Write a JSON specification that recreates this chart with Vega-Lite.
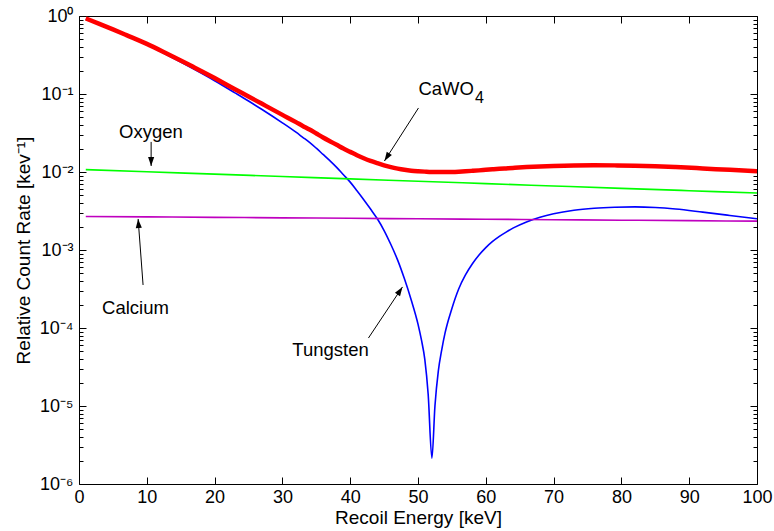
{
  "$schema": "https://vega.github.io/schema/vega-lite/v6.json",
  "width": 678,
  "height": 468,
  "autosize": {"type": "none"},
  "padding": {"left": 79, "top": 16, "right": 17, "bottom": 47},
  "background": "white",
  "config": {
    "font": "Liberation Sans",
    "view": {"stroke": "#000", "strokeWidth": 1},
    "axis": {
      "grid": false,
      "domain": false,
      "labelFont": "Liberation Sans",
      "labelFontSize": 18,
      "labelColor": "#000",
      "titleFont": "Liberation Sans",
      "titleFontSize": 19,
      "titleFontWeight": "normal",
      "titleColor": "#000",
      "tickColor": "#000",
      "tickWidth": 1
    }
  },
  "datasets": {
    "curves": [
      {"energy": 1, "series": "Tungsten", "rate": 0.9183},
      {"energy": 3, "series": "Tungsten", "rate": 0.7798},
      {"energy": 5, "series": "Tungsten", "rate": 0.6607},
      {"energy": 7, "series": "Tungsten", "rate": 0.5559},
      {"energy": 10, "series": "Tungsten", "rate": 0.4266},
      {"energy": 13, "series": "Tungsten", "rate": 0.3162},
      {"energy": 15, "series": "Tungsten", "rate": 0.257},
      {"energy": 17, "series": "Tungsten", "rate": 0.207},
      {"energy": 20, "series": "Tungsten", "rate": 0.1479},
      {"energy": 23, "series": "Tungsten", "rate": 0.1035},
      {"energy": 25, "series": "Tungsten", "rate": 0.08128},
      {"energy": 27, "series": "Tungsten", "rate": 0.06324},
      {"energy": 30, "series": "Tungsten", "rate": 0.04266},
      {"energy": 32, "series": "Tungsten", "rate": 0.03236},
      {"energy": 33, "series": "Tungsten", "rate": 0.02786},
      {"energy": 34, "series": "Tungsten", "rate": 0.02399},
      {"energy": 35, "series": "Tungsten", "rate": 0.02018},
      {"energy": 36, "series": "Tungsten", "rate": 0.01679},
      {"energy": 37, "series": "Tungsten", "rate": 0.01396},
      {"energy": 38, "series": "Tungsten", "rate": 0.01148},
      {"energy": 39, "series": "Tungsten", "rate": 0.009226},
      {"energy": 40, "series": "Tungsten", "rate": 0.007413},
      {"energy": 41, "series": "Tungsten", "rate": 0.005754},
      {"energy": 42, "series": "Tungsten", "rate": 0.004416},
      {"energy": 43, "series": "Tungsten", "rate": 0.00335},
      {"energy": 44, "series": "Tungsten", "rate": 0.002512},
      {"energy": 45, "series": "Tungsten", "rate": 0.001778},
      {"energy": 46, "series": "Tungsten", "rate": 0.001175},
      {"energy": 47, "series": "Tungsten", "rate": 0.0007413},
      {"energy": 48, "series": "Tungsten", "rate": 0.0004266},
      {"energy": 49, "series": "Tungsten", "rate": 0.0002291},
      {"energy": 50, "series": "Tungsten", "rate": 0.0001122},
      {"energy": 50.5, "series": "Tungsten", "rate": 0.00007079},
      {"energy": 51, "series": "Tungsten", "rate": 0.00003981},
      {"energy": 51.5, "series": "Tungsten", "rate": 0.00001413},
      {"energy": 52.05, "series": "Tungsten", "rate": 0.000002138},
      {"energy": 52.5, "series": "Tungsten", "rate": 0.00001},
      {"energy": 53, "series": "Tungsten", "rate": 0.00002818},
      {"energy": 53.5, "series": "Tungsten", "rate": 0.00005248},
      {"energy": 54, "series": "Tungsten", "rate": 0.0000871},
      {"energy": 55, "series": "Tungsten", "rate": 0.0001778},
      {"energy": 56, "series": "Tungsten", "rate": 0.0003162},
      {"energy": 57, "series": "Tungsten", "rate": 0.0004786},
      {"energy": 58, "series": "Tungsten", "rate": 0.0006607},
      {"energy": 59, "series": "Tungsten", "rate": 0.000861},
      {"energy": 60, "series": "Tungsten", "rate": 0.001072},
      {"energy": 61, "series": "Tungsten", "rate": 0.001288},
      {"energy": 62, "series": "Tungsten", "rate": 0.001496},
      {"energy": 63, "series": "Tungsten", "rate": 0.001698},
      {"energy": 64, "series": "Tungsten", "rate": 0.001905},
      {"energy": 66, "series": "Tungsten", "rate": 0.002291},
      {"energy": 68, "series": "Tungsten", "rate": 0.00263},
      {"energy": 70, "series": "Tungsten", "rate": 0.002917},
      {"energy": 73, "series": "Tungsten", "rate": 0.003236},
      {"energy": 76, "series": "Tungsten", "rate": 0.003428},
      {"energy": 79, "series": "Tungsten", "rate": 0.003532},
      {"energy": 82, "series": "Tungsten", "rate": 0.003573},
      {"energy": 85, "series": "Tungsten", "rate": 0.003508},
      {"energy": 88, "series": "Tungsten", "rate": 0.00335},
      {"energy": 92, "series": "Tungsten", "rate": 0.003055},
      {"energy": 96, "series": "Tungsten", "rate": 0.002773},
      {"energy": 100, "series": "Tungsten", "rate": 0.002512},

      {"energy": 1, "series": "Oxygen", "rate": 0.01072},
      {"energy": 10, "series": "Oxygen", "rate": 0.01006},
      {"energy": 20, "series": "Oxygen", "rate": 0.009385},
      {"energy": 30, "series": "Oxygen", "rate": 0.008751},
      {"energy": 40, "series": "Oxygen", "rate": 0.008163},
      {"energy": 50, "series": "Oxygen", "rate": 0.007611},
      {"energy": 60, "series": "Oxygen", "rate": 0.007099},
      {"energy": 70, "series": "Oxygen", "rate": 0.006621},
      {"energy": 80, "series": "Oxygen", "rate": 0.006175},
      {"energy": 90, "series": "Oxygen", "rate": 0.005758},
      {"energy": 100, "series": "Oxygen", "rate": 0.00537},

      {"energy": 1, "series": "Calcium", "rate": 0.002692},
      {"energy": 10, "series": "Calcium", "rate": 0.002658},
      {"energy": 20, "series": "Calcium", "rate": 0.002621},
      {"energy": 30, "series": "Calcium", "rate": 0.002584},
      {"energy": 40, "series": "Calcium", "rate": 0.002549},
      {"energy": 50, "series": "Calcium", "rate": 0.002513},
      {"energy": 60, "series": "Calcium", "rate": 0.002479},
      {"energy": 70, "series": "Calcium", "rate": 0.002444},
      {"energy": 80, "series": "Calcium", "rate": 0.00241},
      {"energy": 90, "series": "Calcium", "rate": 0.002377},
      {"energy": 100, "series": "Calcium", "rate": 0.002344},

      {"energy": 1, "series": "CaWO4", "rate": 0.9317},
      {"energy": 3, "series": "CaWO4", "rate": 0.7931},
      {"energy": 5, "series": "CaWO4", "rate": 0.6738},
      {"energy": 7, "series": "CaWO4", "rate": 0.5689},
      {"energy": 10, "series": "CaWO4", "rate": 0.4393},
      {"energy": 13, "series": "CaWO4", "rate": 0.3287},
      {"energy": 15, "series": "CaWO4", "rate": 0.2694},
      {"energy": 17, "series": "CaWO4", "rate": 0.2192},
      {"energy": 20, "series": "CaWO4", "rate": 0.1599},
      {"energy": 23, "series": "CaWO4", "rate": 0.1153},
      {"energy": 25, "series": "CaWO4", "rate": 0.09295},
      {"energy": 27, "series": "CaWO4", "rate": 0.07477},
      {"energy": 30, "series": "CaWO4", "rate": 0.054},
      {"energy": 32, "series": "CaWO4", "rate": 0.04357},
      {"energy": 33, "series": "CaWO4", "rate": 0.039},
      {"energy": 34, "series": "CaWO4", "rate": 0.03507},
      {"energy": 35, "series": "CaWO4", "rate": 0.0312},
      {"energy": 36, "series": "CaWO4", "rate": 0.02775},
      {"energy": 37, "series": "CaWO4", "rate": 0.02485},
      {"energy": 38, "series": "CaWO4", "rate": 0.02231},
      {"energy": 39, "series": "CaWO4", "rate": 0.02},
      {"energy": 40, "series": "CaWO4", "rate": 0.01812},
      {"energy": 41, "series": "CaWO4", "rate": 0.0164},
      {"energy": 42, "series": "CaWO4", "rate": 0.01501},
      {"energy": 43, "series": "CaWO4", "rate": 0.01388},
      {"energy": 44, "series": "CaWO4", "rate": 0.01298},
      {"energy": 45, "series": "CaWO4", "rate": 0.01219},
      {"energy": 46, "series": "CaWO4", "rate": 0.01153},
      {"energy": 47, "series": "CaWO4", "rate": 0.01104},
      {"energy": 48, "series": "CaWO4", "rate": 0.01067},
      {"energy": 49, "series": "CaWO4", "rate": 0.01041},
      {"energy": 50, "series": "CaWO4", "rate": 0.01024},
      {"energy": 51, "series": "CaWO4", "rate": 0.01011},
      {"energy": 52, "series": "CaWO4", "rate": 0.01001},
      {"energy": 53, "series": "CaWO4", "rate": 0.00999},
      {"energy": 54, "series": "CaWO4", "rate": 0.00999},
      {"energy": 55, "series": "CaWO4", "rate": 0.01003},
      {"energy": 56, "series": "CaWO4", "rate": 0.01011},
      {"energy": 57, "series": "CaWO4", "rate": 0.01022},
      {"energy": 58, "series": "CaWO4", "rate": 0.01035},
      {"energy": 59, "series": "CaWO4", "rate": 0.01049},
      {"energy": 60, "series": "CaWO4", "rate": 0.01065},
      {"energy": 61, "series": "CaWO4", "rate": 0.01081},
      {"energy": 62, "series": "CaWO4", "rate": 0.01097},
      {"energy": 63, "series": "CaWO4", "rate": 0.01112},
      {"energy": 64, "series": "CaWO4", "rate": 0.01127},
      {"energy": 66, "series": "CaWO4", "rate": 0.01156},
      {"energy": 68, "series": "CaWO4", "rate": 0.0118},
      {"energy": 70, "series": "CaWO4", "rate": 0.01198},
      {"energy": 73, "series": "CaWO4", "rate": 0.01215},
      {"energy": 76, "series": "CaWO4", "rate": 0.0122},
      {"energy": 79, "series": "CaWO4", "rate": 0.01216},
      {"energy": 82, "series": "CaWO4", "rate": 0.01207},
      {"energy": 85, "series": "CaWO4", "rate": 0.01187},
      {"energy": 88, "series": "CaWO4", "rate": 0.01157},
      {"energy": 92, "series": "CaWO4", "rate": 0.01111},
      {"energy": 96, "series": "CaWO4", "rate": 0.01065},
      {"energy": 100, "series": "CaWO4", "rate": 0.01023}
    ],
    "arrows": [
      {"name": "CaWO4", "energy": 50.07, "rate": 0.0662, "tipEnergy": 45.05, "tipRate": 0.01384},
      {"name": "Oxygen", "energy": 10.64, "rate": 0.0243, "tipEnergy": 10.64, "tipRate": 0.01194},
      {"name": "Calcium", "energy": 9.45, "rate": 0.000356, "tipEnergy": 8.72, "tipRate": 0.0025},
      {"name": "Tungsten", "energy": 42.69, "rate": 0.0000744, "tipEnergy": 47.71, "tipRate": 0.000336}
    ],
    "labels": [
      {"label": "CaWO", "part": "main", "energy": 50.07, "rate": 0.0971},
      {"label": "4", "part": "sub", "energy": 58.4, "rate": 0.076},
      {"label": "Oxygen", "part": "main", "energy": 5.91, "rate": 0.027},
      {"label": "Calcium", "part": "main", "energy": 3.4, "rate": 0.000151},
      {"label": "Tungsten", "part": "main", "energy": 31.46, "rate": 0.0000438}
    ]
  },
  "resolve": {"axis": {"x": "independent", "y": "independent"}},
  "layer": [
    {
      "data": {"name": "curves"},
      "transform": [{"filter": "datum.series !== 'CaWO4'"}],
      "mark": {"type": "line", "strokeWidth": 1.6, "interpolate": "monotone", "clip": true},
      "encoding": {
        "x": {
          "field": "energy", "type": "quantitative",
          "scale": {"domain": [0, 100]},
          "axis": {
            "orient": "bottom",
            "values": [0, 10, 20, 30, 40, 50, 60, 70, 80, 90, 100],
            "tickSize": -7,
            "labelPadding": 11,
            "labelFlush": false,
            "title": "Recoil Energy [keV]",
            "titlePadding": 2
          }
        },
        "y": {
          "field": "rate", "type": "quantitative",
          "scale": {"type": "log", "domain": [0.000001, 1]},
          "axis": {
            "orient": "left",
            "values": [0.000001, 0.00001, 0.0001, 0.001, 0.01, 0.1, 1],
            "tickSize": -7,
            "labelPadding": 13,
            "labelExpr": "'10' + ['⁰','⁻¹','⁻²','⁻³','⁻⁴','⁻⁵','⁻⁶'][round(-log(datum.value) / LN10)]",
            "title": "Relative Count Rate [kev⁻¹]",
            "titlePadding": 6
          }
        },
        "color": {
          "field": "series", "type": "nominal",
          "scale": {"domain": ["Oxygen", "Calcium", "Tungsten"], "range": ["#00ff00", "#bf00bf", "#0000ff"]},
          "legend": null
        }
      }
    },
    {
      "data": {"name": "curves"},
      "transform": [{"filter": "datum.series === 'CaWO4'"}],
      "mark": {"type": "line", "strokeWidth": 4.5, "color": "#ff0000", "interpolate": "monotone", "clip": true},
      "encoding": {
        "x": {
          "field": "energy", "type": "quantitative",
          "scale": {"domain": [0, 100]},
          "axis": {"orient": "top", "values": [0, 10, 20, 30, 40, 50, 60, 70, 80, 90, 100], "tickSize": -7, "labels": false, "title": null}
        },
        "y": {
          "field": "rate", "type": "quantitative",
          "scale": {"type": "log", "domain": [0.000001, 1]},
          "axis": {"orient": "right", "values": [0.000001, 0.00001, 0.0001, 0.001, 0.01, 0.1, 1], "tickSize": -7, "labels": false, "title": null}
        }
      }
    },
    {
      "data": {"name": "arrows"},
      "mark": {"type": "rule", "color": "#000", "strokeWidth": 1},
      "encoding": {
        "x": {"field": "energy", "type": "quantitative", "scale": {"domain": [0, 100]}, "axis": null},
        "x2": {"field": "tipEnergy"},
        "y": {
          "field": "rate", "type": "quantitative",
          "scale": {"type": "log", "domain": [0.000001, 1]},
          "axis": {
            "orient": "left",
            "values": [0.000002, 0.000003, 0.000004, 0.000005, 0.000006, 0.000007, 0.000008, 0.000009, 0.00002, 0.00003, 0.00004, 0.00005, 0.00006, 0.00007, 0.00008, 0.00009, 0.0002, 0.0003, 0.0004, 0.0005, 0.0006, 0.0007, 0.0008, 0.0009, 0.002, 0.003, 0.004, 0.005, 0.006, 0.007, 0.008, 0.009, 0.02, 0.03, 0.04, 0.05, 0.06, 0.07, 0.08, 0.09, 0.2, 0.3, 0.4, 0.5, 0.6, 0.7, 0.8, 0.9],
            "tickSize": -4, "labels": false, "title": null
          }
        },
        "y2": {"field": "tipRate"}
      }
    },
    {
      "data": {"name": "arrows"},
      "transform": [{"filter": "datum.name === 'CaWO4'"}],
      "mark": {"type": "point", "shape": "M0,0L-0.34,1L0.34,1Z", "filled": true, "color": "#000", "opacity": 1, "size": 324, "angle": 212.7},
      "encoding": {
        "x": {"field": "tipEnergy", "type": "quantitative", "scale": {"domain": [0, 100]}, "axis": null},
        "y": {
          "field": "tipRate", "type": "quantitative",
          "scale": {"type": "log", "domain": [0.000001, 1]},
          "axis": {
            "orient": "right",
            "values": [0.000002, 0.000003, 0.000004, 0.000005, 0.000006, 0.000007, 0.000008, 0.000009, 0.00002, 0.00003, 0.00004, 0.00005, 0.00006, 0.00007, 0.00008, 0.00009, 0.0002, 0.0003, 0.0004, 0.0005, 0.0006, 0.0007, 0.0008, 0.0009, 0.002, 0.003, 0.004, 0.005, 0.006, 0.007, 0.008, 0.009, 0.02, 0.03, 0.04, 0.05, 0.06, 0.07, 0.08, 0.09, 0.2, 0.3, 0.4, 0.5, 0.6, 0.7, 0.8, 0.9],
            "tickSize": -4, "labels": false, "title": null
          }
        }
      }
    },
    {
      "data": {"name": "arrows"},
      "transform": [{"filter": "datum.name === 'Oxygen'"}],
      "mark": {"type": "point", "shape": "M0,0L-0.34,1L0.34,1Z", "filled": true, "color": "#000", "opacity": 1, "size": 324, "angle": 180},
      "encoding": {
        "x": {"field": "tipEnergy", "type": "quantitative", "scale": {"domain": [0, 100]}, "axis": null},
        "y": {"field": "tipRate", "type": "quantitative", "scale": {"type": "log", "domain": [0.000001, 1]}, "axis": null}
      }
    },
    {
      "data": {"name": "arrows"},
      "transform": [{"filter": "datum.name === 'Calcium'"}],
      "mark": {"type": "point", "shape": "M0,0L-0.34,1L0.34,1Z", "filled": true, "color": "#000", "opacity": 1, "size": 324, "angle": 355.7},
      "encoding": {
        "x": {"field": "tipEnergy", "type": "quantitative", "scale": {"domain": [0, 100]}, "axis": null},
        "y": {"field": "tipRate", "type": "quantitative", "scale": {"type": "log", "domain": [0.000001, 1]}, "axis": null}
      }
    },
    {
      "data": {"name": "arrows"},
      "transform": [{"filter": "datum.name === 'Tungsten'"}],
      "mark": {"type": "point", "shape": "M0,0L-0.34,1L0.34,1Z", "filled": true, "color": "#000", "opacity": 1, "size": 324, "angle": 33.7},
      "encoding": {
        "x": {"field": "tipEnergy", "type": "quantitative", "scale": {"domain": [0, 100]}, "axis": null},
        "y": {"field": "tipRate", "type": "quantitative", "scale": {"type": "log", "domain": [0.000001, 1]}, "axis": null}
      }
    },
    {
      "data": {"name": "labels"},
      "transform": [{"filter": "datum.part === 'main'"}],
      "mark": {"type": "text", "align": "left", "baseline": "alphabetic", "fontSize": 18.5, "font": "Liberation Sans", "color": "#000"},
      "encoding": {
        "x": {"field": "energy", "type": "quantitative", "scale": {"domain": [0, 100]}, "axis": null},
        "y": {"field": "rate", "type": "quantitative", "scale": {"type": "log", "domain": [0.000001, 1]}, "axis": null},
        "text": {"field": "label"}
      }
    },
    {
      "data": {"name": "labels"},
      "transform": [{"filter": "datum.part === 'sub'"}],
      "mark": {"type": "text", "align": "left", "baseline": "alphabetic", "fontSize": 16, "font": "Liberation Sans", "color": "#000"},
      "encoding": {
        "x": {"field": "energy", "type": "quantitative", "scale": {"domain": [0, 100]}, "axis": null},
        "y": {"field": "rate", "type": "quantitative", "scale": {"type": "log", "domain": [0.000001, 1]}, "axis": null},
        "text": {"field": "label"}
      }
    }
  ]
}
